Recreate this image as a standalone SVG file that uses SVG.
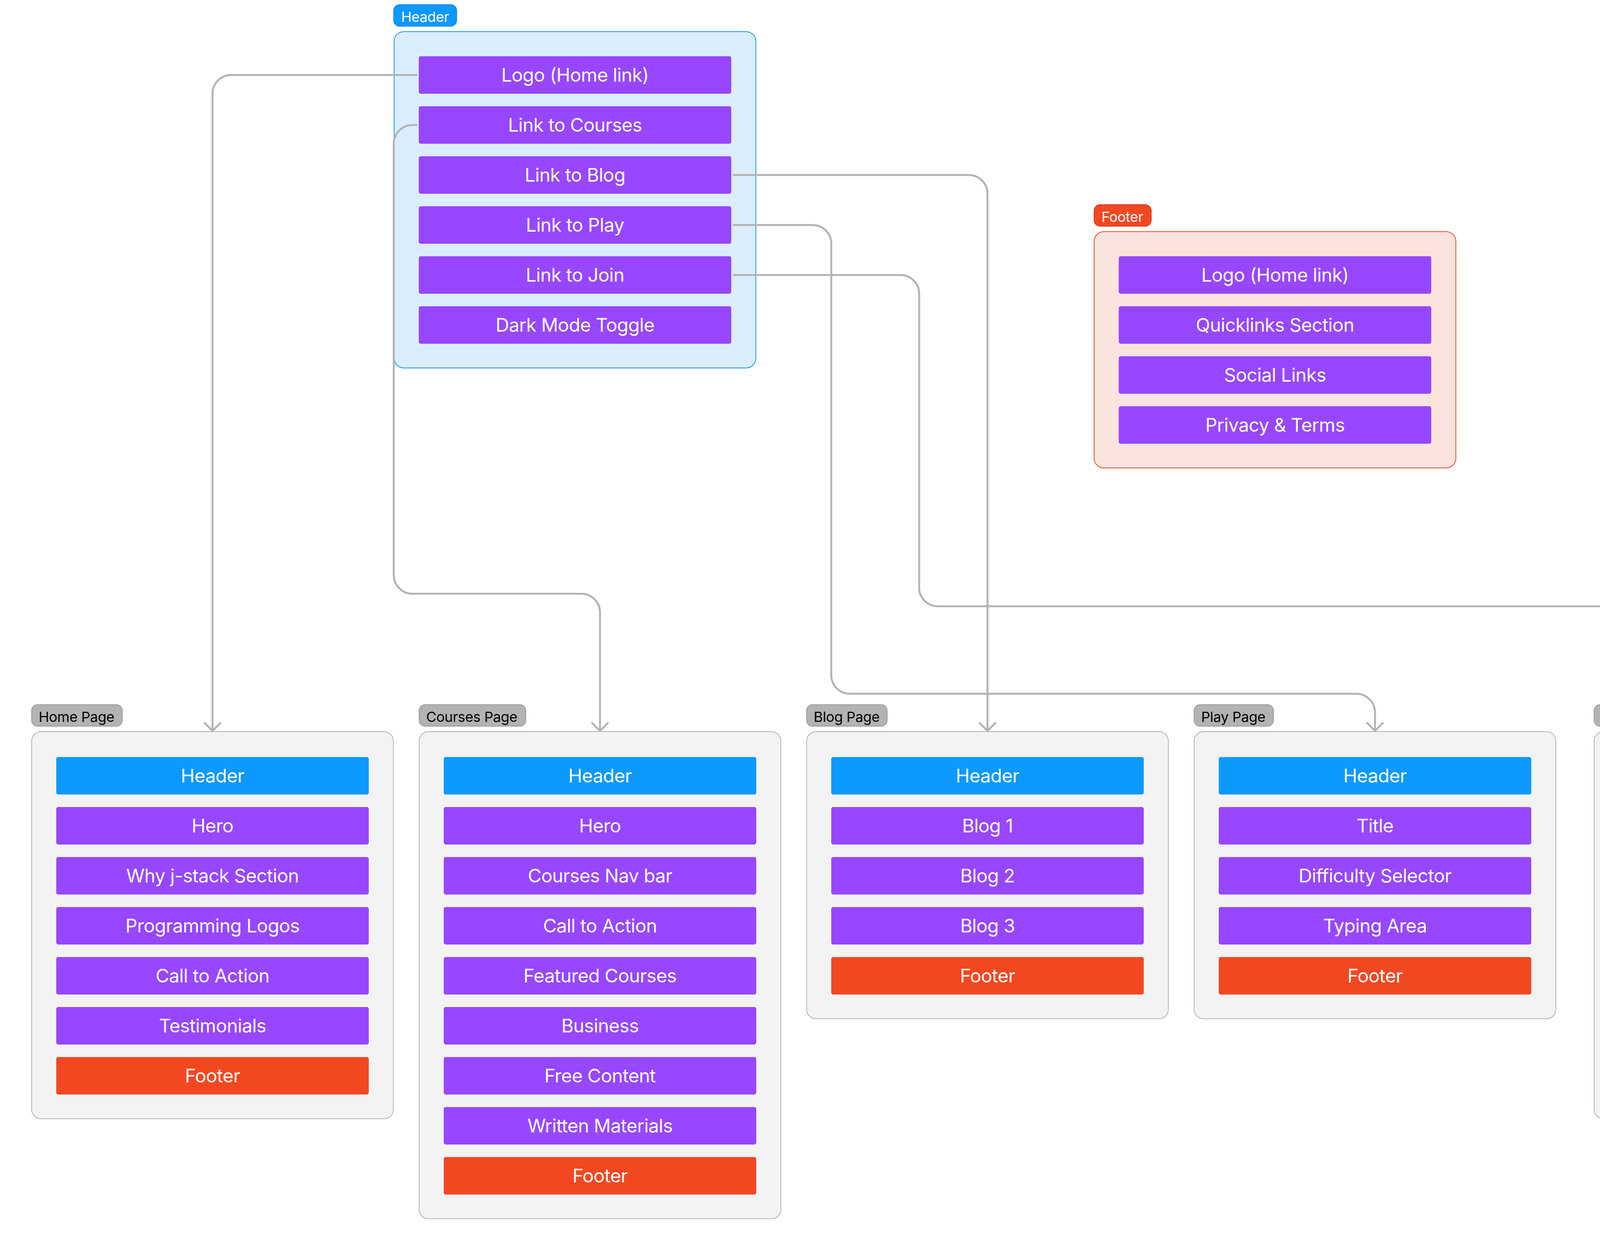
<svg xmlns="http://www.w3.org/2000/svg" width="5088" height="3200" viewBox="0 0 5088 3200">
<style>
text{font-family:Inter,"Noto Sans","Liberation Sans",sans-serif}
.it{font-size:48px;fill:#fff;text-anchor:middle;letter-spacing:-0.7px}
.lt{font-size:36px;fill:#000;letter-spacing:-0.4px}
.lw{font-size:36px;fill:#fff;letter-spacing:-0.4px}
.p{fill:#9747ff}
.b{fill:#0d99ff}
.r{fill:#f24822}
.page{fill:#f3f3f3;stroke:#b3b3b3;stroke-width:2}
.plbl{fill:#b3b3b3;stroke:#999;stroke-width:2}
.conn{fill:none;stroke:#b3b3b3;stroke-width:5;stroke-linecap:round;stroke-linejoin:round}
</style>
<defs>
<marker id="arr" markerUnits="userSpaceOnUse" viewBox="-30 -30 40 60" refX="0" refY="0" markerWidth="40" markerHeight="60" orient="auto" overflow="visible">
<path d="M-20,-20 L0,0 L-20,20" fill="none" stroke="#b3b3b3" stroke-width="5" stroke-linecap="round" stroke-linejoin="round"/>
</marker>
</defs>
<rect width="5088" height="3200" fill="#fff"/>

<g id="header-section">
<rect x="1008" y="12" width="161" height="55" rx="15" fill="#0d99ff" stroke="#0b87df" stroke-width="2"/>
<text class="lw" x="1027" y="56">Header</text>
<rect x="1009" y="81" width="926" height="861" rx="25" fill="#dceefd" stroke="#0d99ff" stroke-width="2"/>
<g id="h-logo"><rect class="p" x="1072" y="144" width="800" height="96" rx="5"/><text class="it" x="1472" y="209">Logo (Home link)</text></g>
<g id="h-courses"><rect class="p" x="1072" y="272" width="800" height="96" rx="5"/><text class="it" x="1472" y="337">Link to Courses</text></g>
<g id="h-blog"><rect class="p" x="1072" y="400" width="800" height="96" rx="5"/><text class="it" x="1472" y="465">Link to Blog</text></g>
<g id="h-play"><rect class="p" x="1072" y="528" width="800" height="96" rx="5"/><text class="it" x="1472" y="593">Link to Play</text></g>
<g id="h-join"><rect class="p" x="1072" y="656" width="800" height="96" rx="5"/><text class="it" x="1472" y="721">Link to Join</text></g>
<g id="h-dark"><rect class="p" x="1072" y="784" width="800" height="96" rx="5"/><text class="it" x="1472" y="849">Dark Mode Toggle</text></g>
</g>

<g id="footer-section">
<rect x="2801" y="524" width="146" height="55" rx="15" fill="#f24822" stroke="#d63a17" stroke-width="2"/>
<text class="lw" x="2820" y="568">Footer</text>
<rect x="2801" y="593" width="926" height="605" rx="25" fill="#fbe4de" stroke="#f24822" stroke-width="2"/>
<g id="f-logo"><rect class="p" x="2864" y="656" width="800" height="96" rx="5"/><text class="it" x="3264" y="721">Logo (Home link)</text></g>
<g id="f-quick"><rect class="p" x="2864" y="784" width="800" height="96" rx="5"/><text class="it" x="3264" y="849">Quicklinks Section</text></g>
<g id="f-social"><rect class="p" x="2864" y="912" width="800" height="96" rx="5"/><text class="it" x="3264" y="977">Social Links</text></g>
<g id="f-privacy"><rect class="p" x="2864" y="1040" width="800" height="96" rx="5"/><text class="it" x="3264" y="1105">Privacy &amp; Terms</text></g>
</g>

<g id="home-page">
<rect class="plbl" x="81" y="1804" width="232" height="55" rx="15"/>
<text class="lt" x="99" y="1848">Home Page</text>
<rect class="page" x="81" y="1873" width="926" height="991" rx="24"/>
<g id="home-header"><rect class="b" x="144" y="1938" width="800" height="96" rx="5"/><text class="it" x="544" y="2003">Header</text></g>
<g id="home-hero"><rect class="p" x="144" y="2066" width="800" height="96" rx="5"/><text class="it" x="544" y="2131">Hero</text></g>
<g id="home-why"><rect class="p" x="144" y="2194" width="800" height="96" rx="5"/><text class="it" x="544" y="2259">Why j-stack Section</text></g>
<g id="home-logos"><rect class="p" x="144" y="2322" width="800" height="96" rx="5"/><text class="it" x="544" y="2387">Programming Logos</text></g>
<g id="home-cta"><rect class="p" x="144" y="2450" width="800" height="96" rx="5"/><text class="it" x="544" y="2515">Call to Action</text></g>
<g id="home-testimonials"><rect class="p" x="144" y="2578" width="800" height="96" rx="5"/><text class="it" x="544" y="2643">Testimonials</text></g>
<g id="home-footer"><rect class="r" x="144" y="2706" width="800" height="96" rx="5"/><text class="it" x="544" y="2771">Footer</text></g>
</g>

<g id="courses-page">
<rect class="plbl" x="1073" y="1804" width="273" height="55" rx="15"/>
<text class="lt" x="1091" y="1848">Courses Page</text>
<rect class="page" x="1073" y="1873" width="926" height="1247" rx="24"/>
<g id="courses-header"><rect class="b" x="1136" y="1938" width="800" height="96" rx="5"/><text class="it" x="1536" y="2003">Header</text></g>
<g id="courses-hero"><rect class="p" x="1136" y="2066" width="800" height="96" rx="5"/><text class="it" x="1536" y="2131">Hero</text></g>
<g id="courses-nav"><rect class="p" x="1136" y="2194" width="800" height="96" rx="5"/><text class="it" x="1536" y="2259">Courses Nav bar</text></g>
<g id="courses-cta"><rect class="p" x="1136" y="2322" width="800" height="96" rx="5"/><text class="it" x="1536" y="2387">Call to Action</text></g>
<g id="courses-featured"><rect class="p" x="1136" y="2450" width="800" height="96" rx="5"/><text class="it" x="1536" y="2515">Featured Courses</text></g>
<g id="courses-business"><rect class="p" x="1136" y="2578" width="800" height="96" rx="5"/><text class="it" x="1536" y="2643">Business</text></g>
<g id="courses-free"><rect class="p" x="1136" y="2706" width="800" height="96" rx="5"/><text class="it" x="1536" y="2771">Free Content</text></g>
<g id="courses-written"><rect class="p" x="1136" y="2834" width="800" height="96" rx="5"/><text class="it" x="1536" y="2899">Written Materials</text></g>
<g id="courses-footer"><rect class="r" x="1136" y="2962" width="800" height="96" rx="5"/><text class="it" x="1536" y="3027">Footer</text></g>
</g>

<g id="blog-page">
<rect class="plbl" x="2065" y="1804" width="206" height="55" rx="15"/>
<text class="lt" x="2083" y="1848">Blog Page</text>
<rect class="page" x="2065" y="1873" width="926" height="735" rx="24"/>
<g id="blog-header"><rect class="b" x="2128" y="1938" width="800" height="96" rx="5"/><text class="it" x="2528" y="2003">Header</text></g>
<g id="blog-1"><rect class="p" x="2128" y="2066" width="800" height="96" rx="5"/><text class="it" x="2528" y="2131">Blog 1</text></g>
<g id="blog-2"><rect class="p" x="2128" y="2194" width="800" height="96" rx="5"/><text class="it" x="2528" y="2259">Blog 2</text></g>
<g id="blog-3"><rect class="p" x="2128" y="2322" width="800" height="96" rx="5"/><text class="it" x="2528" y="2387">Blog 3</text></g>
<g id="blog-footer"><rect class="r" x="2128" y="2450" width="800" height="96" rx="5"/><text class="it" x="2528" y="2515">Footer</text></g>
</g>

<g id="play-page">
<rect class="plbl" x="3057" y="1804" width="203" height="55" rx="15"/>
<text class="lt" x="3075" y="1848">Play Page</text>
<rect class="page" x="3057" y="1873" width="926" height="735" rx="24"/>
<g id="play-header"><rect class="b" x="3120" y="1938" width="800" height="96" rx="5"/><text class="it" x="3520" y="2003">Header</text></g>
<g id="play-title"><rect class="p" x="3120" y="2066" width="800" height="96" rx="5"/><text class="it" x="3520" y="2131">Title</text></g>
<g id="play-difficulty"><rect class="p" x="3120" y="2194" width="800" height="96" rx="5"/><text class="it" x="3520" y="2259">Difficulty Selector</text></g>
<g id="play-typing"><rect class="p" x="3120" y="2322" width="800" height="96" rx="5"/><text class="it" x="3520" y="2387">Typing Area</text></g>
<g id="play-footer"><rect class="r" x="3120" y="2450" width="800" height="96" rx="5"/><text class="it" x="3520" y="2515">Footer</text></g>
</g>

<g id="join-page">
<rect class="plbl" x="4081" y="1804" width="202" height="55" rx="15"/>
<text class="lt" x="4099" y="1848">Join Page</text>
<rect class="page" x="4081" y="1873" width="926" height="991" rx="24"/>
<g id="join-header"><rect class="b" x="4144" y="1938" width="800" height="96" rx="5"/><text class="it" x="4544" y="2003">Header</text></g>
<g id="join-summary"><rect class="p" x="4144" y="2066" width="800" height="96" rx="5"/><text class="it" x="4544" y="2131">Side Summary</text></g>
<g id="join-testimonials"><rect class="p" x="4144" y="2194" width="800" height="96" rx="5"/><text class="it" x="4544" y="2259">Side Testimonials</text></g>
<g id="join-plan"><rect class="p" x="4144" y="2322" width="800" height="96" rx="5"/><text class="it" x="4544" y="2387">Select Plan Type &amp; Seats</text></g>
<g id="join-email"><rect class="p" x="4144" y="2450" width="800" height="96" rx="5"/><text class="it" x="4544" y="2515">Email and Password</text></g>
<g id="join-card"><rect class="p" x="4144" y="2578" width="800" height="96" rx="5"/><text class="it" x="4544" y="2643">Credit Card Form</text></g>
<g id="join-footer"><rect class="r" x="4144" y="2706" width="800" height="96" rx="5"/><text class="it" x="4544" y="2771">Footer</text></g>
</g>

<g id="connectors">
<path class="conn" marker-end="url(#arr)" d="M1066 192 H592 A48 48 0 0 0 544 240 V1871"/>
<path class="conn" marker-end="url(#arr)" d="M1066 320 H1056 A48 48 0 0 0 1008 368 V1472 A48 48 0 0 0 1056 1520 H1488 A48 48 0 0 1 1536 1568 V1871"/>
<path class="conn" marker-end="url(#arr)" d="M1878 448 H2480 A48 48 0 0 1 2528 496 V1871"/>
<path class="conn" marker-end="url(#arr)" d="M1878 576 H2080 A48 48 0 0 1 2128 624 V1728 A48 48 0 0 0 2176 1776 H3472 A48 48 0 0 1 3520 1824 V1871"/>
<path class="conn" marker-end="url(#arr)" d="M1878 704 H2305 A48 48 0 0 1 2353 752 V1504 A48 48 0 0 0 2401 1552 H4496 A48 48 0 0 1 4544 1600 V1871"/>
</g>
</svg>
